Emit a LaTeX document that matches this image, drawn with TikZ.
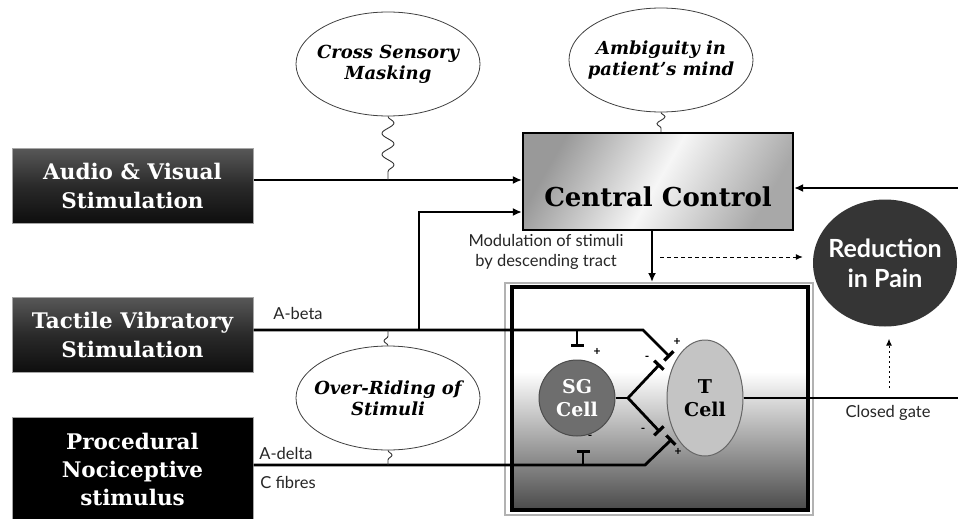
\documentclass[tikz,border=0pt]{standalone}
\usepackage{fontspec}
\setmainfont{DejaVu Serif}
\newfontfamily\gill{Lato}
\usetikzlibrary{arrows.meta,decorations.pathmorphing,shapes.geometric,calc}
\definecolor{srctop}{HTML}{585858}
\definecolor{srcmid}{HTML}{2A2A2A}
\definecolor{srcbot}{HTML}{0E0E0E}
\definecolor{sgfill}{HTML}{6E6E6E}
\definecolor{tfill}{HTML}{C4C4C4}
\definecolor{redfill}{HTML}{353535}
\definecolor{gatedark}{HTML}{4A4A4A}
\definecolor{metaldark}{HTML}{999999}
\definecolor{metallight}{HTML}{F6F6F6}
\pgfdeclareverticalshading{gateshade}{100bp}{color(0bp)=(gatedark); color(25bp)=(gatedark); color(56bp)=(white); color(100bp)=(white)}
\begin{document}
\begin{tikzpicture}[x=1pt,y=-1pt,
  srcbox/.style={draw=gray!70, line width=1pt, minimum width=241pt, inner sep=0pt,
    text=white, align=center, font=\bfseries\fontsize{21.5}{29}\selectfont},
  bubble/.style={draw=black!75, line width=0.8pt, ellipse, fill=white, inner xsep=-40pt, inner ysep=-15pt,
    minimum width=184pt, minimum height=104pt, align=center,
    font=\bfseries\itshape\fontsize{18}{21}\selectfont},
  conn/.style={line width=2.8pt},
  arr/.style={line width=2.8pt,-{Latex[length=9pt,width=8pt]}},
  inh/.style={line width=2.8pt,-{Bar[width=13pt,line width=3.2pt]}},
  squig/.style={line width=0.9pt, black!80, decorate,
    decoration={snake, amplitude=6pt, segment length=21pt}},
  smallsquig/.style={line width=0.9pt, black!80, decorate,
    decoration={snake, amplitude=4pt, segment length=14pt}},
  lbl/.style={font=\gill\fontsize{16.5}{20}\selectfont, text=black!85, inner sep=0pt, align=center},
  sign/.style={font=\gill\bfseries\fontsize{12}{12}\selectfont, inner sep=0pt}]
\useasboundingbox (0,0) rectangle (958,519);
\fill[white] (0,0) rectangle (958,519);

% source boxes
\node[srcbox, minimum height=75pt, top color=srctop, bottom color=srcbot, middle color=srcmid]
  (audio) at (132.5,185.5) {Audio \& Visual\\Stimulation};
\node[srcbox, minimum height=75pt, top color=srctop, bottom color=srcbot, middle color=srcmid]
  (tactile) at (132.5,334.5) {Tactile Vibratory\\Stimulation};
\node[srcbox, minimum height=104pt, fill=black, font=\bfseries\fontsize{21.5}{28}\selectfont]
  (proc) at (132.5,469) {Procedural\\Nociceptive\\stimulus};

% central control
\node[draw=black, line width=2.2pt, minimum width=270pt, minimum height=97pt,
  left color=metaldark, right color=metaldark!85, middle color=metallight, shading angle=60] (cc) at (658,181.5) {};
\node[font=\bfseries\fontsize{26}{30}\selectfont, inner sep=0pt] (cctext) at (658,197) {Central Control};

% gate box
\node[draw=gray!60, line width=2pt, minimum width=308pt, minimum height=232pt, inner sep=0pt] (gateout) at (659,399) {};
\node[draw=black, line width=3.5pt, minimum width=296pt, minimum height=223pt, inner sep=0pt,
  shading=gateshade] (gate) at (660,398.5) {};

% bubbles
\node[bubble] (cs) at (388,64) {Cross Sensory\\Masking};
\node[bubble] (amb) at (661,60) {Ambiguity in\\patient's mind};
\node[bubble] (orid) at (388,398) {Over-Riding of\\Stimuli};

% cells
\node[circle, draw=black!70, line width=1pt, fill=sgfill, minimum size=76pt, inner sep=-10pt,
  text=white, align=center, font=\bfseries\fontsize{19}{23}\selectfont] (sg) at (577,398) {SG\\Cell};
\node[ellipse, draw=black!60, line width=1pt, fill=tfill, minimum width=76pt, minimum height=116pt,
  inner sep=-10pt, align=center, font=\bfseries\fontsize{19}{23}\selectfont] (tc) at (705,398) {T\\Cell};

% reduction in pain
\node[ellipse, fill=redfill, minimum width=144pt, minimum height=127pt, inner xsep=-40pt, inner ysep=-15pt,
  text=white, align=center, font=\gill\bfseries\fontsize{25}{30}\selectfont] (red) at (885,263) {Reduction\\in Pain};

% coordinates
\coordinate (ab1) at (643,330);
\coordinate (abend) at (670,357);
\coordinate (tv) at (419,330);
\coordinate (ad1) at (645,465);
\coordinate (adend) at (672,439);
\coordinate (br) at (628,398);
\coordinate (rin) at (958,188);
\coordinate (rout) at (958,398);
\coordinate (dstart) at (660,257);
\coordinate (cg) at (889,388);
\coordinate (inhA) at (577,330);
\coordinate (inhB) at (583,465);
\coordinate (avline) at (388,180);

% connectors
\draw[arr] ($(audio.east)+(0,-5.5)$) -- ($(cc.west)+(0,-1.5)$);
\draw[arr] (tv) |- ($(cc.west)+(0,30.5)$);
\draw[arr] (rin) -- (rin -| cc.east);
\draw[arr] ([xshift=-6pt]cc.south) -- ([xshift=-6pt]cc.south |- gateout.north);
\draw[line width=1pt, dash pattern=on 4pt off 3pt, -{Latex[length=7pt,width=6pt]}]
  (dstart) -- ($(dstart -| red.west)+(-10,0)$);
\draw[line width=1pt, dash pattern=on 2.5pt off 2.5pt, -{Latex[length=7pt,width=6pt]}]
  (cg) -- ($(cg |- red.south)+(0,12)$);
\draw[conn] (tc.east) -- (rout);

\draw[inh] (tactile.east |- ab1) -- (ab1) -- (abend);
\draw[inh] (proc.east |- ad1) -- (ad1) -- (adend);
\draw[conn] (sg.east) -- (br);
\draw[inh] (br) -- (660,364);
\draw[inh] (br) -- (660,432);
\draw[inh] (inhA) -- ($(inhA)+(0,17)$);
\draw[inh] (inhB) -- ($(inhB)+(0,-15)$);

% squiggles
\draw[squig] (cs.south) -- (avline);
\draw[smallsquig] (amb.south) -- (amb.south |- cc.north);
\draw[smallsquig, decoration={snake, amplitude=4pt, segment length=15pt}] (orid.north) -- (orid.north |- ab1);
\draw[smallsquig, decoration={snake, amplitude=4pt, segment length=15pt}] (orid.south) -- (orid.south |- ad1);

% signs
\node[sign] (s1) at (597,352) {+};
\node[sign] (s2) at (647,358) {-};
\node[sign] (s3) at (677,342) {+};
\node[sign] (s4) at (643,430) {-};
\node[sign] (s5) at (678,452) {+};
\node[sign] (s6) at (590,437) {-};

% labels
\node[lbl] (mod) at (546,252) {Modulation of stimuli\\by descending tract};
\node[lbl] (abeta) at (298,313) {A-beta};
\node[lbl] (adelta) at (286,453) {A-delta};
\node[lbl] (cfib) at (288,482) {C fibres};
\node[lbl] (closed) at (888,413) {Closed gate};
\end{tikzpicture}
\end{document}
